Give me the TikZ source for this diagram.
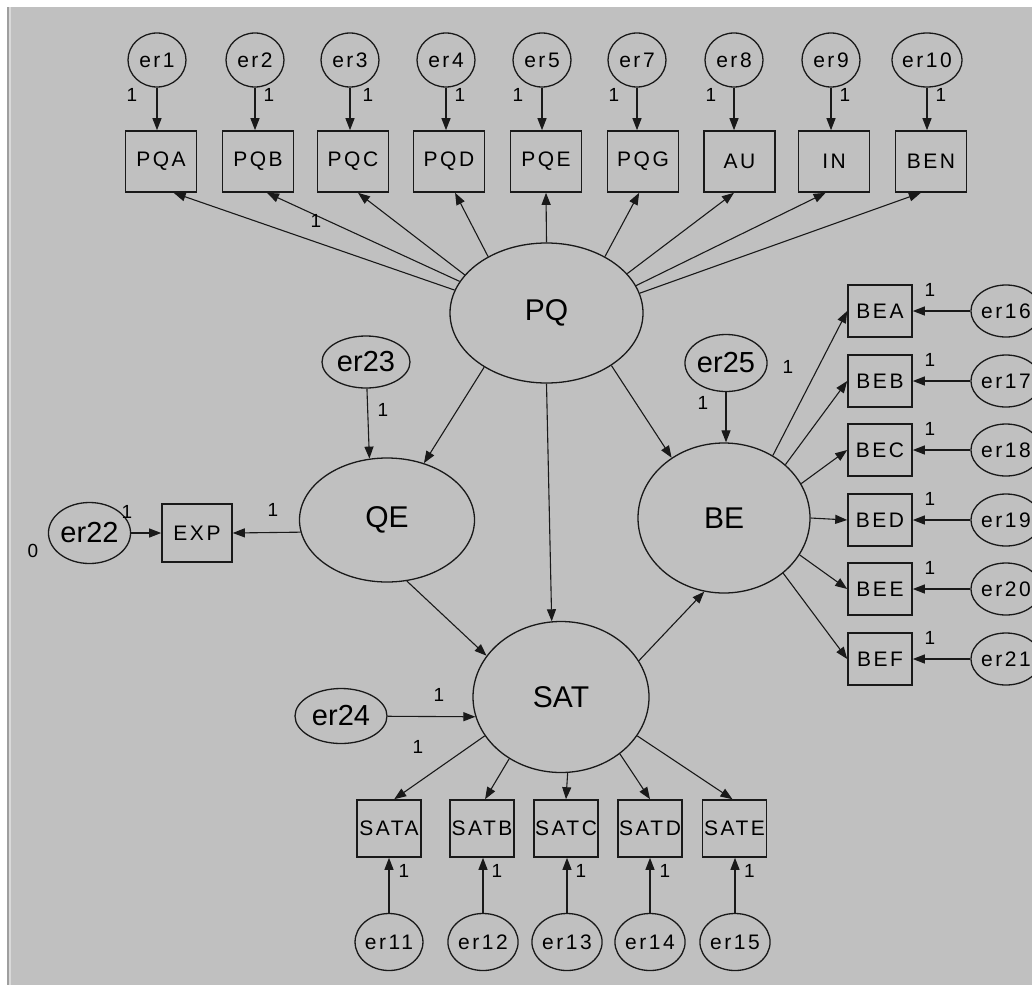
\documentclass[tikz,border=0pt]{standalone}
\usepackage{fontspec}
\setmainfont{Liberation Sans}
\newfontfamily\obsfont[LetterSpace=12]{Liberation Sans}
\usetikzlibrary{shapes.geometric,arrows.meta}
\definecolor{amosgray}{RGB}{192,192,192}
\definecolor{ink}{RGB}{25,25,25}
\tikzset{
  latent/.style={ellipse,draw=ink,line width=1.3pt,inner sep=0pt,font=\fontsize{30}{30}\selectfont},
  errsmall/.style={ellipse,draw=ink,line width=1.3pt,inner sep=0pt,font=\obsfont\fontsize{21}{21}\selectfont},
  errbig/.style={ellipse,draw=ink,line width=1.3pt,inner sep=0pt,font=\fontsize{29}{29}\selectfont},
  obs/.style={rectangle,draw=ink,line width=1.6pt,inner sep=0pt,minimum width=71pt,minimum height=61pt,font=\obsfont\fontsize{21}{21}\selectfont},
  one/.style={inner sep=0pt,font=\fontsize{19}{19}\selectfont},
  load/.style={-{Triangle[length=12pt,width=9pt]},draw=ink,line width=1.1pt}
}
\begin{document}
\begin{tikzpicture}[x=1pt,y=-1pt]
\useasboundingbox (0,0) rectangle (1032,985);
\fill[amosgray] (0,0) rectangle (1032,985);
\fill[white] (0,0) rectangle (1032,7);
\fill[white] (0,0) rectangle (7,985);
\fill[gray!75] (7,7) rectangle (9,985);
\fill[gray!30] (9,7) rectangle (11,985);

\node[latent,minimum width=193pt,minimum height=140pt] (PQ) at (546.5,313) {PQ};
\node[latent,minimum width=175pt,minimum height=124pt] (QE) at (387,520) {QE};
\node[latent,minimum width=176pt,minimum height=151pt] (SAT) at (561,697) {SAT};
\node[latent,minimum width=172pt,minimum height=150pt] (BE) at (724,518) {BE};

\node[errsmall,minimum width=58pt,minimum height=54pt] (er1) at (157,60) {er1};
\node[errsmall,minimum width=58pt,minimum height=54pt] (er2) at (255,60) {er2};
\node[errsmall,minimum width=58pt,minimum height=54pt] (er3) at (350,60) {er3};
\node[errsmall,minimum width=58pt,minimum height=54pt] (er4) at (446,60) {er4};
\node[errsmall,minimum width=58pt,minimum height=54pt] (er5) at (542,60) {er5};
\node[errsmall,minimum width=58pt,minimum height=54pt] (er7) at (637,60) {er7};
\node[errsmall,minimum width=58pt,minimum height=54pt] (er8) at (734,60) {er8};
\node[errsmall,minimum width=58pt,minimum height=54pt] (er9) at (831,60) {er9};
\node[errsmall,minimum width=58pt,minimum height=54pt] (er10) at (927,60) {er10};

\node[obs] (PQA) at (161,161.5) {PQA};
\node[obs] (PQB) at (258,161.5) {PQB};
\node[obs] (PQC) at (353,161.5) {PQC};
\node[obs] (PQD) at (449,161.5) {PQD};
\node[obs] (PQE) at (546,161.5) {PQE};
\node[obs] (PQG) at (643,161.5) {PQG};
\node[obs] (AU) at (739.5,161.5) {AU};
\node[obs] (IN) at (834,161.5) {IN};
\node[obs] (BEN) at (931,161.5) {BEN};

\draw[load] (er1) -- (er1 |- PQA.north);
\draw[load] (er2) -- (er2 |- PQB.north);
\draw[load] (er3) -- (er3 |- PQC.north);
\draw[load] (er4) -- (er4 |- PQD.north);
\draw[load] (er5) -- (er5 |- PQE.north);
\draw[load] (er7) -- (er7 |- PQG.north);
\draw[load] (er8) -- (er8 |- AU.north);
\draw[load] (er9) -- (er9 |- IN.north);
\draw[load] (er10) -- (er10 |- BEN.north);

\draw[load] (PQ.166) -- (PQA.-68);
\draw[load] (PQ.160) -- (PQB.-74);
\draw[load] (PQ.155) -- (PQC.-81);
\draw[load] (PQ.136) -- (PQD.-79);
\draw[load] (PQ.90) -- (PQE.south);
\draw[load] (PQ.44) -- (PQG.-97);
\draw[load] (PQ.26) -- (AU.-100);
\draw[load] (PQ.17) -- (IN.-105);
\draw[load] (PQ.12) -- (BEN.-108);

\node[one] (o1) at (132,95) {1};
\node[one] (o2) at (269,95) {1};
\node[one] (o3) at (368,95) {1};
\node[one] (o4) at (460,95) {1};
\node[one] (o5) at (518,95) {1};
\node[one] (o7) at (614,95) {1};
\node[one] (o8) at (711,95) {1};
\node[one] (o9) at (845,95) {1};
\node[one] (o10) at (941,95) {1};
\node[one] (oPQB) at (316,221) {1};

\node[errbig,minimum width=88pt,minimum height=52pt] (er23) at (366,362) {er23};
\node[obs,minimum width=70pt,minimum height=58pt] (EXP) at (197,533) {EXP};
\node[errbig,minimum width=71pt,minimum height=61pt] (er22) at (89.5,533) {er22};
\draw[load] (er23) -- (QE.106);
\draw[load] (PQ.221) -- (QE.57);
\draw[load] (er22) -- (EXP);
\draw[load] (QE.188) -- (EXP.east);
\draw[load] (QE.-72) -- (SAT.151);
\draw[load] (PQ.270) -- (SAT.97);
\draw[load] (PQ.-39) -- (BE.131);
\node[one] (o23) at (383,410) {1};
\node[one] (o22) at (127,512) {1};
\node[one] (oEXP) at (273,510) {1};
\node[one] (zero) at (33,551) {0};

\node[errbig,minimum width=92pt,minimum height=55pt] (er24) at (341,716) {er24};
\draw[load] (er24) -- (SAT.193);
\draw[load] (SAT.25.7) -- (BE.255);
\node[one] (o24) at (439,695) {1};
\node[one] (oSATA) at (418,747) {1};

\node[obs,minimum width=64pt,minimum height=57pt] (SATA) at (389,828.5) {SATA};
\node[obs,minimum width=64pt,minimum height=57pt] (SATB) at (482,828.5) {SATB};
\node[obs,minimum width=64pt,minimum height=57pt] (SATC) at (566,828.5) {SATC};
\node[obs,minimum width=64pt,minimum height=57pt] (SATD) at (650,828.5) {SATD};
\node[obs,minimum width=64pt,minimum height=57pt] (SATE) at (734.5,828.5) {SATE};
\draw[load] (SAT.207.5) -- (SATA.80);
\draw[load] (SAT.230) -- (SATB.84);
\draw[load] (SAT.275) -- (SATC.north);
\draw[load] (SAT.316) -- (SATD.north);
\draw[load] (SAT.333) -- (SATE.94);

\node[errsmall,minimum width=57pt,minimum height=57pt] (er11) at (389,942) {er11};
\node[errsmall,minimum width=57pt,minimum height=57pt] (er12) at (483,942) {er12};
\node[errsmall,minimum width=57pt,minimum height=57pt] (er13) at (567,942) {er13};
\node[errsmall,minimum width=57pt,minimum height=57pt] (er14) at (650,942) {er14};
\node[errsmall,minimum width=57pt,minimum height=57pt] (er15) at (735,942) {er15};
\draw[load] (er11) -- (er11 |- SATA.south);
\draw[load] (er12) -- (er12 |- SATB.south);
\draw[load] (er13) -- (er13 |- SATC.south);
\draw[load] (er14) -- (er14 |- SATD.south);
\draw[load] (er15) -- (er15 |- SATE.south);
\node[one] (o11) at (404,871) {1};
\node[one] (o12) at (497,871) {1};
\node[one] (o13) at (581,871) {1};
\node[one] (o14) at (665,871) {1};
\node[one] (o15) at (749.5,871) {1};

\node[errbig,minimum width=75pt,minimum height=57pt] (er25) at (726,363) {er25};
\draw[load] (er25) -- (er25 |- BE.north);
\node[one] (o25) at (703,403) {1};
\node[one] (oBEA) at (788,367) {1};

\node[obs,minimum width=64pt,minimum height=52pt] (BEA) at (880,311) {BEA};
\node[obs,minimum width=64pt,minimum height=52pt] (BEB) at (880,381) {BEB};
\node[obs,minimum width=64pt,minimum height=52pt] (BEC) at (880,450) {BEC};
\node[obs,minimum width=64pt,minimum height=52pt] (BED) at (880,520) {BED};
\node[obs,minimum width=64pt,minimum height=52pt] (BEE) at (880,589) {BEE};
\node[obs,minimum width=64pt,minimum height=52pt] (BEF) at (880,659) {BEF};
\draw[load] (BE.52) -- (BEA.west);
\draw[load] (BE.41.6) -- (BEB.west);
\draw[load] (BE.24.8) -- (BEC.west);
\draw[load] (BE.0) -- (BED.west);
\draw[load] (BE.-26.6) -- (BEE.west);
\draw[load] (BE.-43) -- (BEF.west);

\node[errsmall,minimum width=54pt,minimum height=52pt] (er16) at (1006,311) {er16};
\node[errsmall,minimum width=54pt,minimum height=52pt] (er17) at (1006,381) {er17};
\node[errsmall,minimum width=54pt,minimum height=52pt] (er18) at (1006,450) {er18};
\node[errsmall,minimum width=54pt,minimum height=52pt] (er19) at (1006,520) {er19};
\node[errsmall,minimum width=54pt,minimum height=52pt] (er20) at (1006,589) {er20};
\node[errsmall,minimum width=54pt,minimum height=52pt] (er21) at (1006,659) {er21};
\draw[load] (er16) -- (BEA.east);
\draw[load] (er17) -- (BEB.east);
\draw[load] (er18) -- (BEC.east);
\draw[load] (er19) -- (BED.east);
\draw[load] (er20) -- (BEE.east);
\draw[load] (er21) -- (BEF.east);
\node[one] (o16) at (930,290) {1};
\node[one] (o17) at (930,360) {1};
\node[one] (o18) at (930,429) {1};
\node[one] (o19) at (930,499) {1};
\node[one] (o20) at (930,568) {1};
\node[one] (o21) at (930,638) {1};
\end{tikzpicture}
\end{document}
